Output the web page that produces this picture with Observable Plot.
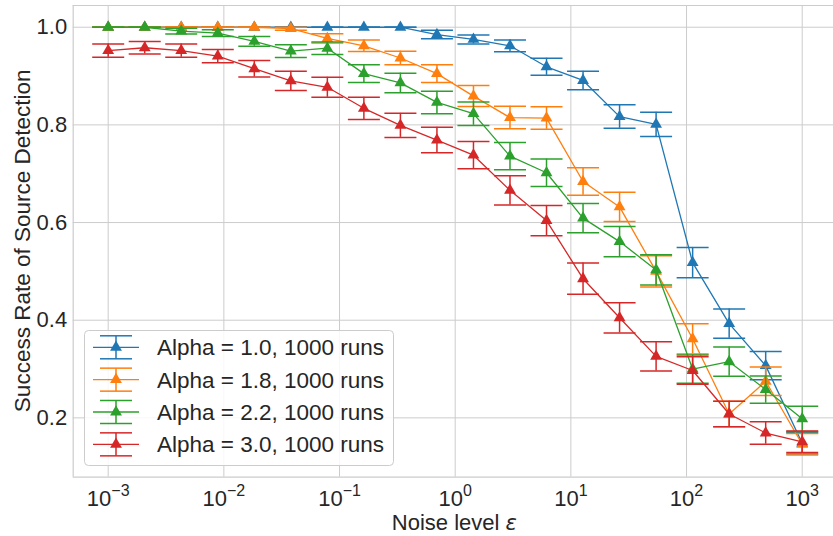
<!DOCTYPE html>
<html><head><meta charset="utf-8">
<script src="https://cdn.jsdelivr.net/npm/d3@7"></script>
<script src="https://cdn.jsdelivr.net/npm/@observablehq/plot@0.6"></script>
<style>
body{margin:0;background:#fff;}
#wrap{position:relative;width:833px;height:536px;font-family:"Liberation Sans",Arial,sans-serif;color:#262626;}
#legend{position:absolute;left:84px;top:330px;}
</style></head><body><div id="wrap"><div id="legend"></div></div>
<script>
// Noise levels (x), 20 log-spaced levels
const noise = [0.001, 0.0020691, 0.0042813, 0.0088587, 0.018330, 0.037927, 0.078476, 0.16238, 0.33598, 0.69519,
               1.43845, 2.97635, 6.15848, 12.7427, 26.3665, 54.5559, 112.884, 233.572, 483.293, 1000];

const seriesNames = ["Alpha = 1.0, 1000 runs", "Alpha = 1.8, 1000 runs", "Alpha = 2.2, 1000 runs", "Alpha = 3.0, 1000 runs"];
const seriesColors = ["#1f77b4", "#ff7f0e", "#2ca02c", "#d62728"];

const rateAlpha10 = [1.0,1.0,1.0,1.0,1.0,1.0,1.0,1.0,1.0,0.985,0.975,0.962,0.919,0.891,0.817,0.801,0.518,0.393,0.307,0.148];
const errAlpha10  = [0,0,0,0,0,0,0,0,0,0.0086,0.0092,0.012,0.0175,0.019,0.024,0.025,0.031,0.030,0.029,0.022];

const rateAlpha18 = [1.0,1.0,1.0,1.0,1.0,0.997,0.977,0.962,0.937,0.905,0.859,0.815,0.814,0.684,0.632,0.500,0.362,0.208,0.275,0.146];
const errAlpha18  = [0,0,0,0,0,0.003,0.0095,0.0117,0.014,0.018,0.0215,0.023,0.023,0.028,0.030,0.032,0.031,0.026,0.029,0.022];

const rateAlpha22 = [1.0,1.0,0.992,0.988,0.971,0.951,0.957,0.905,0.886,0.846,0.823,0.736,0.702,0.609,0.561,0.503,0.300,0.315,0.258,0.198];
const errAlpha22  = [0,0,0.0058,0.007,0.010,0.013,0.0126,0.018,0.020,0.023,0.024,0.028,0.028,0.030,0.031,0.031,0.029,0.030,0.028,0.026];

const rateAlpha30 = [0.952,0.958,0.952,0.941,0.915,0.890,0.877,0.834,0.799,0.769,0.738,0.666,0.604,0.485,0.405,0.326,0.297,0.208,0.169,0.151];
const errAlpha30  = [0.0137,0.0126,0.0137,0.0136,0.017,0.0198,0.0205,0.0228,0.0246,0.026,0.028,0.030,0.031,0.032,0.031,0.030,0.028,0.026,0.023,0.022];

const xTicks = [1e-3, 1e-2, 1e-1, 1, 10, 100, 1000];
const yTicks = [0.2, 0.4, 0.6, 0.8, 1.0];

const rates = [rateAlpha10, rateAlpha18, rateAlpha22, rateAlpha30];
const errs = [errAlpha10, errAlpha18, errAlpha22, errAlpha30];

const textColor = "#262626";
const gridColor = "#cccccc";
const font = '"Liberation Sans", Arial, sans-serif';

const xDomain = [Math.pow(10, -3.3025), Math.pow(10, 3.2705)];
const yDomain = [0.0785, 1.0445];

const capSymbol = { draw(ctx) { ctx.moveTo(-16, 0); ctx.lineTo(16, 0); } };

const seriesMarks = [];
seriesNames.forEach((name, k) => {
  const data = noise.map((x, i) => ({ x, y: rates[k][i], e: errs[k][i], series: name }));
  const c = seriesColors[k];
  seriesMarks.push(
    Plot.line(data, { x: "x", y: "y", stroke: c, strokeWidth: 1.3 }),
    Plot.ruleX(data, { x: "x", y1: d => d.y - d.e, y2: d => d.y + d.e, stroke: c, strokeWidth: 1.5 }),
    Plot.dot(data, { x: "x", y: d => d.y - d.e, symbol: capSymbol, stroke: c, fill: "none", strokeWidth: 1.5 }),
    Plot.dot(data, { x: "x", y: d => d.y + d.e, symbol: capSymbol, stroke: c, fill: "none", strokeWidth: 1.5 }),
    Plot.dot(data, { x: "x", y: "y", symbol: "triangle", fill: c, stroke: "none", r: 4.4 })
  );
});

const chart = Plot.plot({
  width: 833,
  height: 536,
  marginLeft: 72.7,
  marginTop: 5,
  marginRight: 0,
  marginBottom: 59.3,
  style: { fontFamily: font, fontSize: "22px", color: textColor, background: "#fff" },
  x: { type: "log", domain: xDomain },
  y: { domain: yDomain },
  marks: [
    Plot.gridX({ ticks: xTicks, stroke: gridColor, strokeOpacity: 1, strokeWidth: 1 }),
    Plot.gridY({ ticks: yTicks, stroke: gridColor, strokeOpacity: 1, strokeWidth: 1 }),
    Plot.ruleY([yDomain[0], yDomain[1]], { stroke: gridColor, strokeWidth: 1.2 }),
    Plot.ruleX([xDomain[0]], { stroke: gridColor, strokeWidth: 1.2 }),
    Plot.axisX({ ticks: xTicks, tickFormat: d => String(Math.round(Math.log10(d))), tickSize: 0, tickPadding: 12.7, label: null, fill: textColor }),
    Plot.axisY({ ticks: yTicks, tickFormat: d3.format(".1f"), tickSize: 0, tickPadding: 6, label: null, fill: textColor }),
    ...seriesMarks
  ]
});

const svg = d3.select(chart);
// Power-of-ten tick labels with real superscripts
svg.selectAll('[aria-label="x-axis tick label"] text').each(function () {
  const exp = this.textContent.replace("-", "\u2212");
  const t = d3.select(this);
  t.text("");
  t.append("tspan").text("10");
  t.append("tspan").attr("dy", "-0.6em").attr("font-size", "16px").text(exp);
});

// Axis titles
svg.append("text")
  .attr("transform", "translate(30,240.8) rotate(-90)")
  .attr("text-anchor", "middle")
  .attr("fill", textColor)
  .attr("font-size", "22.5px")
  .text("Success Rate of Source Detection");
const xt = svg.append("text")
  .attr("x", 454.4).attr("y", 530)
  .attr("text-anchor", "middle")
  .attr("fill", textColor)
  .attr("font-size", "22px");
xt.append("tspan").text("Noise level ");
xt.append("tspan").attr("font-style", "italic").attr("font-family", '"DejaVu Sans", sans-serif').attr("font-size", "21px").text("\u03b5");

document.getElementById("wrap").prepend(chart);

// Legend
const lg = d3.select("#legend").append("svg").attr("width", 311).attr("height", 137)
  .style("font-family", font).style("font-size", "22.5px");
lg.append("rect").attr("x", 0.5).attr("y", 0.5).attr("width", 309).attr("height", 135)
  .attr("rx", 4).attr("fill", "#fff").attr("fill-opacity", 0.85).attr("stroke", gridColor);
seriesNames.forEach((name, k) => {
  const cy = 17.3 + k * 32.35;
  const c = seriesColors[k];
  const g = lg.append("g");
  g.append("line").attr("x1", 9).attr("x2", 55).attr("y1", cy).attr("y2", cy).attr("stroke", c).attr("stroke-width", 1.3);
  g.append("line").attr("x1", 32).attr("x2", 32).attr("y1", cy - 11.5).attr("y2", cy + 11.5).attr("stroke", c).attr("stroke-width", 1.5);
  [-11.5, 11.5].forEach(o => g.append("line").attr("x1", 16).attr("x2", 48).attr("y1", cy + o).attr("y2", cy + o).attr("stroke", c).attr("stroke-width", 1.5));
  g.append("path").attr("d", d3.symbol(d3.symbolTriangle, Math.PI * 4.4 * 4.4)()).attr("transform", `translate(32,${cy})`).attr("fill", c);
  g.append("text").attr("x", 73).attr("y", cy).attr("dy", "0.35em").attr("fill", textColor).text(name);
});
</script>
</body></html>
